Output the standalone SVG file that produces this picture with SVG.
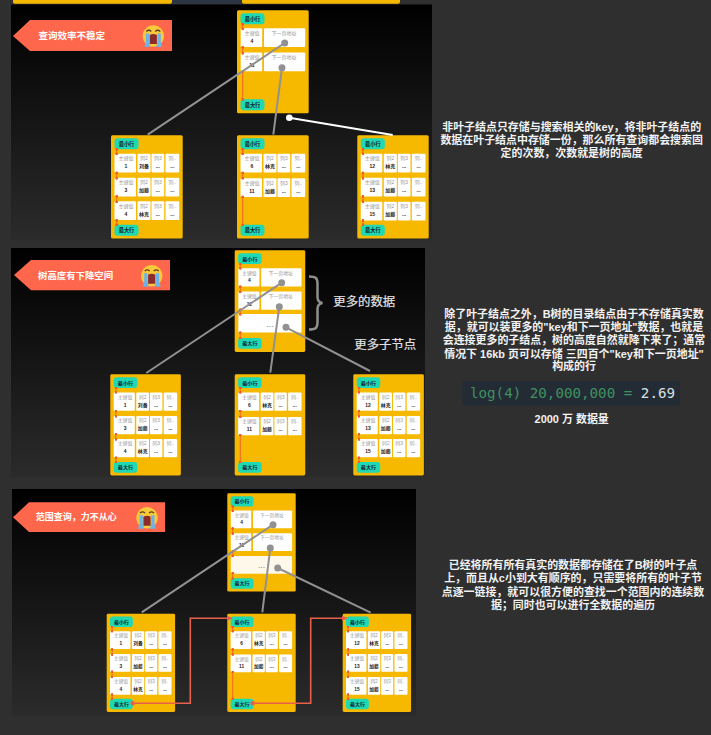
<svg xmlns="http://www.w3.org/2000/svg" width="711" height="735" viewBox="0 0 711 735">
<style>
text{font-family:"Liberation Sans","Noto Sans CJK SC",sans-serif}
.n{fill:#f6b900}
.c{fill:#fff}
.b{fill:#1fd8b4}
.bt{font-size:5.2px;font-weight:700;fill:#123;text-anchor:middle}
.l{font-size:5px;fill:#999;text-anchor:middle}
.v{font-size:5px;font-weight:700;fill:#222;text-anchor:middle}
.r{fill:none;stroke:#f0592e;stroke-width:.9;marker-start:url(#d);marker-mid:url(#d);marker-end:url(#d)}
.e{font-size:9px;fill:#888;text-anchor:middle}
.g{fill:none;stroke:#919191;stroke-width:2}
.gd{fill:#919191}
.o{fill:none;stroke:#e9604a;stroke-width:1.6;marker-end:url(#ah)}
.od{fill:#e9604a}
.ban{fill:#ff674d}
.bant{fill:#fff;font-weight:700;dominant-baseline:central}
.ann{fill:#e2e2e2;stroke:#e2e2e2;stroke-width:.2;font-size:12.4px;dominant-baseline:central}
.d{fill:#f2f2f2;font-size:10.95px;font-weight:700;text-anchor:middle;dominant-baseline:central}
</style>
<defs>
<linearGradient id="pg" x1="0" y1="0" x2="0" y2="1"><stop offset="0" stop-color="#000"/><stop offset="1" stop-color="#2b2b2b"/></linearGradient>
<marker id="d" viewBox="-2 -2 4 4" markerWidth="2.8" markerHeight="2.8" markerUnits="userSpaceOnUse"><circle r="2" fill="#f0592e"/></marker>
<marker id="ah" viewBox="0 0 8 8" refX="7" refY="4" markerWidth="5.5" markerHeight="5.5" markerUnits="userSpaceOnUse" orient="auto"><path d="M0 0L8 4L0 8Z" fill="#e9604a"/></marker>
<g id="cells"><rect class="c" x="3.500" width="21.500" height="18.700" rx="1"/><rect class="c" x="26.500" width="13" height="18.700" rx="1"/><rect class="c" x="40.500" width="12.700" height="18.700" rx="1"/><rect class="c" x="54.500" width="13.700" height="18.700" rx="1"/></g>
<g id="rcells"><rect class="c" x="3.700" width="21.500" height="18.700" rx="1"/><rect class="c" x="27" width="41.200" height="18.700" rx="1"/></g>
<g id="cry">
<circle r="10.700" fill="#f9c93c"/>
<path d="M-7 -4.500Q-4.500 -7 -2 -4.500M2 -4.500Q4.500 -7 7 -4.500" fill="none" stroke="#5b3a1e" stroke-width="1.200"/>
<path d="M-3.600 -1Q0 -3 3.600 -1L3.600 8L-3.600 8Z" fill="#8b2c2c"/>
<path d="M-7.500 -2.500H-4.200V6L-3 11H-9L-7.500 6ZM4.200 -2.500H7.500V6L9 11H3L4.200 6Z" fill="#6db3e6"/>
</g>
</defs>
<rect width="711" height="735" fill="#2f2f2f"/>
<g id="top-strip">
<rect x="172" y="0" width="70" height="4" fill="#2b3642"/>
<path d="M13 0H172V2A1.700 1.700 0 0 1 170.300 3.700H14.700A1.700 1.700 0 0 1 13 2Z" fill="#f6b900"/>
<path d="M242 0H400V2A1.700 1.700 0 0 1 398.300 3.700H243.700A1.700 1.700 0 0 1 242 2Z" fill="#f6b900"/>
</g>
<rect id="panel-1" x="11" y="4.500" width="421" height="236" fill="url(#pg)"/>
<rect id="panel-2" x="11" y="248" width="414" height="229" fill="url(#pg)"/>
<rect id="panel-3" x="12" y="489" width="404" height="227" fill="url(#pg)"/>

<g id="banner-1"><path class="ban" d="M13 36L30 20H172V51H30Z"/><text class="bant" x="38.500" y="35.500" font-size="9.500">查询效率不稳定</text><use href="#cry" transform="translate(153.300 36)"/></g>
<g id="banner-2"><path class="ban" d="M14 275L31 260H170V290.300H31Z"/><text class="bant" x="38" y="275" font-size="9.400">树高度有下降空间</text><use href="#cry" transform="translate(151.700 275.700)"/></g>
<g id="banner-3"><path class="ban" d="M13 517.300L29 502.300H165V532H29Z"/><text class="bant" x="35.700" y="517.300" font-size="9">范围查询，力不从心</text><use href="#cry" transform="translate(147 517.700)"/></g>

<g id="p1-root" transform="translate(237 10.300)"><rect class="n" width="71.700" height="103" rx="1.500"/>
<rect class="b" x="3.500" y="3" width="24" height="11" rx="3"/><text class="bt" x="15.500" y="10.500">最小行</text>
<g transform="translate(0 18)"><use href="#rcells"/><text class="l" x="15" y="6.500">主键值</text><text class="v" x="15" y="14.500">4</text><text class="l" x="47" y="6.500">下一页地址</text></g>
<g transform="translate(0 42.300)"><use href="#rcells"/><text class="l" x="15" y="6.500">主键值</text><text class="v" x="15" y="14.500">11</text><text class="l" x="47" y="6.500">下一页地址</text></g>
<rect class="b" x="3.500" y="89" width="24" height="11" rx="3"/><text class="bt" x="15.500" y="96.500">最大行</text>
<path class="r" d="M5.700 14V18.500M5.700 37V43M5.700 61V89"/></g>

<g id="p1-leaf-1" transform="translate(111 135.300)"><rect class="n" width="71.700" height="103.300" rx="1.500"/>
<rect class="b" x="3.500" y="3" width="24" height="11" rx="3"/><text class="bt" x="15.500" y="10.500">最小行</text>
<g transform="translate(0 18.500)"><use href="#cells"/><text class="l" x="15" y="6.500">主键值</text><text class="v" x="15" y="14.500">1</text><text class="l" x="33" y="6.500">列2</text><text class="v" x="33" y="14.500">刘备</text><text class="l" x="46.800" y="6.500">列3</text><text class="v" x="46.800" y="14.500">...</text><text class="l" x="61.300" y="6.500">列..</text><text class="v" x="61.300" y="14.500">...</text></g>
<g transform="translate(0 42.500)"><use href="#cells"/><text class="l" x="15" y="6.500">主键值</text><text class="v" x="15" y="14.500">3</text><text class="l" x="33" y="6.500">列2</text><text class="v" x="33" y="14.500">加藤</text><text class="l" x="46.800" y="6.500">列3</text><text class="v" x="46.800" y="14.500">...</text><text class="l" x="61.300" y="6.500">列..</text><text class="v" x="61.300" y="14.500">...</text></g>
<g transform="translate(0 66)"><use href="#cells"/><text class="l" x="15" y="6.500">主键值</text><text class="v" x="15" y="14.500">4</text><text class="l" x="33" y="6.500">列2</text><text class="v" x="33" y="14.500">林克</text><text class="l" x="46.800" y="6.500">列3</text><text class="v" x="46.800" y="14.500">...</text><text class="l" x="61.300" y="6.500">列..</text><text class="v" x="61.300" y="14.500">...</text></g>
<rect class="b" x="3.500" y="89.500" width="24" height="11" rx="3"/><text class="bt" x="15.500" y="97">最大行</text>
<path class="r" d="M5.700 14V18.500M5.700 37.500V43M5.700 61V66.500M5.700 85V89.500"/></g>

<g id="p1-leaf-2" transform="translate(237 135.300)"><rect class="n" width="71.700" height="103.300" rx="1.500"/>
<rect class="b" x="3.500" y="3" width="24" height="11" rx="3"/><text class="bt" x="15.500" y="10.500">最小行</text>
<g transform="translate(0 18.500)"><use href="#cells"/><text class="l" x="15" y="6.500">主键值</text><text class="v" x="15" y="14.500">6</text><text class="l" x="33" y="6.500">列2</text><text class="v" x="33" y="14.500">林克</text><text class="l" x="46.800" y="6.500">列3</text><text class="v" x="46.800" y="14.500">...</text><text class="l" x="61.300" y="6.500">列..</text><text class="v" x="61.300" y="14.500">...</text></g>
<g transform="translate(0 43)"><use href="#cells"/><text class="l" x="15" y="6.500">主键值</text><text class="v" x="15" y="14.500">11</text><text class="l" x="33" y="6.500">列2</text><text class="v" x="33" y="14.500">加藤</text><text class="l" x="46.800" y="6.500">列3</text><text class="v" x="46.800" y="14.500">...</text><text class="l" x="61.300" y="6.500">列..</text><text class="v" x="61.300" y="14.500">...</text></g>
<rect class="b" x="3.500" y="89.500" width="24" height="11" rx="3"/><text class="bt" x="15.500" y="97">最大行</text>
<path class="r" d="M5.700 14V18.500M5.700 37.500V43M5.700 61.500V89.500"/></g>

<g id="p1-leaf-3" transform="translate(357.300 135.300)"><rect class="n" width="71.400" height="103.300" rx="1.500"/>
<rect class="b" x="3.500" y="3" width="24" height="11" rx="3"/><text class="bt" x="15.500" y="10.500">最小行</text>
<g transform="translate(0 18.500)"><use href="#cells"/><text class="l" x="15" y="6.500">主键值</text><text class="v" x="15" y="14.500">12</text><text class="l" x="33" y="6.500">列2</text><text class="v" x="33" y="14.500">林克</text><text class="l" x="46.800" y="6.500">列3</text><text class="v" x="46.800" y="14.500">...</text><text class="l" x="61.300" y="6.500">列..</text><text class="v" x="61.300" y="14.500">...</text></g>
<g transform="translate(0 42.500)"><use href="#cells"/><text class="l" x="15" y="6.500">主键值</text><text class="v" x="15" y="14.500">13</text><text class="l" x="33" y="6.500">列2</text><text class="v" x="33" y="14.500">加藤</text><text class="l" x="46.800" y="6.500">列3</text><text class="v" x="46.800" y="14.500">...</text><text class="l" x="61.300" y="6.500">列..</text><text class="v" x="61.300" y="14.500">...</text></g>
<g transform="translate(0 66.500)"><use href="#cells"/><text class="l" x="15" y="6.500">主键值</text><text class="v" x="15" y="14.500">15</text><text class="l" x="33" y="6.500">列2</text><text class="v" x="33" y="14.500">加藤</text><text class="l" x="46.800" y="6.500">列3</text><text class="v" x="46.800" y="14.500">...</text><text class="l" x="61.300" y="6.500">列..</text><text class="v" x="61.300" y="14.500">...</text></g>
<rect class="b" x="3.500" y="89.500" width="24" height="11" rx="3"/><text class="bt" x="15.500" y="97">最大行</text>
<path class="r" d="M5.700 14V18.500M5.700 37.500V43M5.700 61V66.500M5.700 85V89.500"/></g>

<g id="p2-root" transform="translate(234.700 250.300) scale(.98)"><rect class="n" width="72" height="103.800" rx="1.500"/>
<rect class="b" x="3.500" y="3" width="24" height="11" rx="3"/><text class="bt" x="15.500" y="10.500">最小行</text>
<g transform="translate(0 18.300)"><use href="#rcells"/><text class="l" x="15" y="6.500">主键值</text><text class="v" x="15" y="14.500">4</text><text class="l" x="47" y="6.500">下一页地址</text></g>
<g transform="translate(0 42)"><use href="#rcells"/><text class="l" x="15" y="6.500">主键值</text><text class="v" x="15" y="14.500">11</text><text class="l" x="47" y="6.500">下一页地址</text></g>
<rect class="c" x="3.700" y="65" width="64.500" height="19" rx="1"/><text class="e" x="36" y="78">...</text>
<rect class="b" x="3.500" y="89.500" width="24" height="11" rx="3"/><text class="bt" x="15.500" y="97">最大行</text>
<path class="r" d="M5.700 14V18.500M5.700 37V42.500M5.700 60.500V65.500M5.700 84V89.500"/></g>

<g id="p2-leaf-1" transform="translate(110.300 374.300) scale(.98)"><rect class="n" width="72" height="103.300" rx="1.500"/>
<rect class="b" x="3.500" y="3" width="24" height="11" rx="3"/><text class="bt" x="15.500" y="10.500">最小行</text>
<g transform="translate(0 18.500)"><use href="#cells"/><text class="l" x="15" y="6.500">主键值</text><text class="v" x="15" y="14.500">1</text><text class="l" x="33" y="6.500">列2</text><text class="v" x="33" y="14.500">刘备</text><text class="l" x="46.800" y="6.500">列3</text><text class="v" x="46.800" y="14.500">...</text><text class="l" x="61.300" y="6.500">列..</text><text class="v" x="61.300" y="14.500">...</text></g>
<g transform="translate(0 42.500)"><use href="#cells"/><text class="l" x="15" y="6.500">主键值</text><text class="v" x="15" y="14.500">3</text><text class="l" x="33" y="6.500">列2</text><text class="v" x="33" y="14.500">加藤</text><text class="l" x="46.800" y="6.500">列3</text><text class="v" x="46.800" y="14.500">...</text><text class="l" x="61.300" y="6.500">列..</text><text class="v" x="61.300" y="14.500">...</text></g>
<g transform="translate(0 66)"><use href="#cells"/><text class="l" x="15" y="6.500">主键值</text><text class="v" x="15" y="14.500">4</text><text class="l" x="33" y="6.500">列2</text><text class="v" x="33" y="14.500">林克</text><text class="l" x="46.800" y="6.500">列3</text><text class="v" x="46.800" y="14.500">...</text><text class="l" x="61.300" y="6.500">列..</text><text class="v" x="61.300" y="14.500">...</text></g>
<rect class="b" x="3.500" y="89.500" width="24" height="11" rx="3"/><text class="bt" x="15.500" y="97">最大行</text>
<path class="r" d="M5.700 14V18.500M5.700 37.500V43M5.700 61V66.500M5.700 85V89.500"/></g>

<g id="p2-leaf-2" transform="translate(234.700 374.300) scale(.98)"><rect class="n" width="72" height="103.300" rx="1.500"/>
<rect class="b" x="3.500" y="3" width="24" height="11" rx="3"/><text class="bt" x="15.500" y="10.500">最小行</text>
<g transform="translate(0 18.500)"><use href="#cells"/><text class="l" x="15" y="6.500">主键值</text><text class="v" x="15" y="14.500">6</text><text class="l" x="33" y="6.500">列2</text><text class="v" x="33" y="14.500">林克</text><text class="l" x="46.800" y="6.500">列3</text><text class="v" x="46.800" y="14.500">...</text><text class="l" x="61.300" y="6.500">列..</text><text class="v" x="61.300" y="14.500">...</text></g>
<g transform="translate(0 43.500)"><use href="#cells"/><text class="l" x="15" y="6.500">主键值</text><text class="v" x="15" y="14.500">11</text><text class="l" x="33" y="6.500">列2</text><text class="v" x="33" y="14.500">加藤</text><text class="l" x="46.800" y="6.500">列3</text><text class="v" x="46.800" y="14.500">...</text><text class="l" x="61.300" y="6.500">列..</text><text class="v" x="61.300" y="14.500">...</text></g>
<rect class="b" x="3.500" y="89.500" width="24" height="11" rx="3"/><text class="bt" x="15.500" y="97">最大行</text>
<path class="r" d="M5.700 14V18.500M5.700 37.500V43.500M5.700 62V89.500"/></g>

<g id="p2-leaf-3" transform="translate(353.300 374.300) scale(.98)"><rect class="n" width="72" height="103.300" rx="1.500"/>
<rect class="b" x="3.500" y="3" width="24" height="11" rx="3"/><text class="bt" x="15.500" y="10.500">最小行</text>
<g transform="translate(0 18.500)"><use href="#cells"/><text class="l" x="15" y="6.500">主键值</text><text class="v" x="15" y="14.500">12</text><text class="l" x="33" y="6.500">列2</text><text class="v" x="33" y="14.500">林克</text><text class="l" x="46.800" y="6.500">列3</text><text class="v" x="46.800" y="14.500">...</text><text class="l" x="61.300" y="6.500">列..</text><text class="v" x="61.300" y="14.500">...</text></g>
<g transform="translate(0 42.500)"><use href="#cells"/><text class="l" x="15" y="6.500">主键值</text><text class="v" x="15" y="14.500">13</text><text class="l" x="33" y="6.500">列2</text><text class="v" x="33" y="14.500">加藤</text><text class="l" x="46.800" y="6.500">列3</text><text class="v" x="46.800" y="14.500">...</text><text class="l" x="61.300" y="6.500">列..</text><text class="v" x="61.300" y="14.500">...</text></g>
<g transform="translate(0 66)"><use href="#cells"/><text class="l" x="15" y="6.500">主键值</text><text class="v" x="15" y="14.500">15</text><text class="l" x="33" y="6.500">列2</text><text class="v" x="33" y="14.500">加藤</text><text class="l" x="46.800" y="6.500">列3</text><text class="v" x="46.800" y="14.500">...</text><text class="l" x="61.300" y="6.500">列..</text><text class="v" x="61.300" y="14.500">...</text></g>
<rect class="b" x="3.500" y="89.500" width="24" height="11" rx="3"/><text class="bt" x="15.500" y="97">最大行</text>
<path class="r" d="M5.700 14V18.500M5.700 37.500V43M5.700 61V66.500M5.700 85V89.500"/></g>

<g id="p3-root" transform="translate(227.300 493.300) scale(.95)"><rect class="n" width="72" height="103.500" rx="1.500"/>
<rect class="b" x="3.500" y="3" width="24" height="11" rx="3"/><text class="bt" x="15.500" y="10.500">最小行</text>
<g transform="translate(0 18)"><use href="#rcells"/><text class="l" x="15" y="6.500">主键值</text><text class="v" x="15" y="14.500">4</text><text class="l" x="47" y="6.500">下一页地址</text></g>
<g transform="translate(0 42)"><use href="#rcells"/><text class="l" x="15" y="6.500">主键值</text><text class="v" x="15" y="14.500">11</text><text class="l" x="47" y="6.500">下一页地址</text></g>
<rect x="3.700" y="66" width="64.500" height="18.700" rx="1" fill="#fdf8ea"/><text class="e" x="36" y="78.500">...</text>
<rect class="b" x="3.500" y="89.500" width="24" height="11" rx="3"/><text class="bt" x="15.500" y="97">最大行</text>
<path class="r" d="M5.700 14V18.500M5.700 37V42.500M5.700 61V66M5.700 84V89.500"/></g>

<g id="p3-leaf-1" transform="translate(106.700 613.700) scale(.95)"><rect class="n" width="72" height="103.500" rx="1.500"/>
<rect class="b" x="3.500" y="3" width="24" height="11" rx="3"/><text class="bt" x="15.500" y="10.500">最小行</text>
<g transform="translate(0 18.500)"><use href="#cells"/><text class="l" x="15" y="6.500">主键值</text><text class="v" x="15" y="14.500">1</text><text class="l" x="33" y="6.500">列2</text><text class="v" x="33" y="14.500">刘备</text><text class="l" x="46.800" y="6.500">列3</text><text class="v" x="46.800" y="14.500">...</text><text class="l" x="61.300" y="6.500">列..</text><text class="v" x="61.300" y="14.500">...</text></g>
<g transform="translate(0 42.500)"><use href="#cells"/><text class="l" x="15" y="6.500">主键值</text><text class="v" x="15" y="14.500">3</text><text class="l" x="33" y="6.500">列2</text><text class="v" x="33" y="14.500">加藤</text><text class="l" x="46.800" y="6.500">列3</text><text class="v" x="46.800" y="14.500">...</text><text class="l" x="61.300" y="6.500">列..</text><text class="v" x="61.300" y="14.500">...</text></g>
<g transform="translate(0 66.500)"><use href="#cells"/><text class="l" x="15" y="6.500">主键值</text><text class="v" x="15" y="14.500">4</text><text class="l" x="33" y="6.500">列2</text><text class="v" x="33" y="14.500">林克</text><text class="l" x="46.800" y="6.500">列3</text><text class="v" x="46.800" y="14.500">...</text><text class="l" x="61.300" y="6.500">列..</text><text class="v" x="61.300" y="14.500">...</text></g>
<rect class="b" x="3.500" y="89.500" width="24" height="11" rx="3"/><text class="bt" x="15.500" y="97">最大行</text>
<path class="r" d="M5.700 14V18.500M5.700 37.500V43M5.700 61V66.500M5.700 85V89.500"/></g>

<g id="p3-leaf-2" transform="translate(227.300 613.700) scale(.95)"><rect class="n" width="72" height="103.500" rx="1.500"/>
<rect class="b" x="3.500" y="3" width="24" height="11" rx="3"/><text class="bt" x="15.500" y="10.500">最小行</text>
<g transform="translate(0 18.500)"><use href="#cells"/><text class="l" x="15" y="6.500">主键值</text><text class="v" x="15" y="14.500">6</text><text class="l" x="33" y="6.500">列2</text><text class="v" x="33" y="14.500">林克</text><text class="l" x="46.800" y="6.500">列3</text><text class="v" x="46.800" y="14.500">...</text><text class="l" x="61.300" y="6.500">列..</text><text class="v" x="61.300" y="14.500">...</text></g>
<g transform="translate(0 43)"><use href="#cells"/><text class="l" x="15" y="6.500">主键值</text><text class="v" x="15" y="14.500">11</text><text class="l" x="33" y="6.500">列2</text><text class="v" x="33" y="14.500">加藤</text><text class="l" x="46.800" y="6.500">列3</text><text class="v" x="46.800" y="14.500">...</text><text class="l" x="61.300" y="6.500">列..</text><text class="v" x="61.300" y="14.500">...</text></g>
<rect class="b" x="3.500" y="89.500" width="24" height="11" rx="3"/><text class="bt" x="15.500" y="97">最大行</text>
<path class="r" d="M5.700 14V18.500M5.700 37.500V43M5.700 61.500V89.500"/></g>

<g id="p3-leaf-3" transform="translate(342.700 613.700) scale(.95)"><rect class="n" width="72" height="103.500" rx="1.500"/>
<rect class="b" x="3.500" y="3" width="24" height="11" rx="3"/><text class="bt" x="15.500" y="10.500">最小行</text>
<g transform="translate(0 18.500)"><use href="#cells"/><text class="l" x="15" y="6.500">主键值</text><text class="v" x="15" y="14.500">12</text><text class="l" x="33" y="6.500">列2</text><text class="v" x="33" y="14.500">林克</text><text class="l" x="46.800" y="6.500">列3</text><text class="v" x="46.800" y="14.500">...</text><text class="l" x="61.300" y="6.500">列..</text><text class="v" x="61.300" y="14.500">...</text></g>
<g transform="translate(0 42.500)"><use href="#cells"/><text class="l" x="15" y="6.500">主键值</text><text class="v" x="15" y="14.500">13</text><text class="l" x="33" y="6.500">列2</text><text class="v" x="33" y="14.500">加藤</text><text class="l" x="46.800" y="6.500">列3</text><text class="v" x="46.800" y="14.500">...</text><text class="l" x="61.300" y="6.500">列..</text><text class="v" x="61.300" y="14.500">...</text></g>
<g transform="translate(0 66.500)"><use href="#cells"/><text class="l" x="15" y="6.500">主键值</text><text class="v" x="15" y="14.500">15</text><text class="l" x="33" y="6.500">列2</text><text class="v" x="33" y="14.500">加藤</text><text class="l" x="46.800" y="6.500">列3</text><text class="v" x="46.800" y="14.500">...</text><text class="l" x="61.300" y="6.500">列..</text><text class="v" x="61.300" y="14.500">...</text></g>
<rect class="b" x="3.500" y="89.500" width="24" height="11" rx="3"/><text class="bt" x="15.500" y="97">最大行</text>
<path class="r" d="M5.700 14V18.500M5.700 37.500V43M5.700 61V66.500M5.700 85V89.500"/></g>

<g id="connectors">
<path class="g" d="M284.700 43L147.700 134.700M282 67.700L273.300 134.700"/>
<circle class="gd" cx="284.700" cy="43" r="3.500"/><circle class="gd" cx="282" cy="67.700" r="3.500"/>
<path d="M289.300 117.700L392.700 135" fill="none" stroke="#fff" stroke-width="2"/><circle cx="289.300" cy="117.700" r="3.300" fill="#fff"/>
<path class="g" d="M281.700 282.700L146.300 373M279.300 306.700L270.300 372.700M286 327.300L370 371"/>
<circle class="gd" cx="281.700" cy="282.700" r="3.500"/><circle class="gd" cx="279.300" cy="306.700" r="3.500"/><circle class="gd" cx="286" cy="327.300" r="3.500"/>
<path class="g" d="M273 524.700L141.700 612.300M270.300 548L262.300 612.300M277.700 568L370.700 612.700"/>
<circle class="gd" cx="273" cy="524.700" r="3.500"/><circle class="gd" cx="270.300" cy="548" r="3.500"/><circle class="gd" cx="277.700" cy="568" r="3.500"/>
<path class="o" d="M132.700 703.300H190.300V618.300H231.700"/><circle class="od" cx="132.700" cy="703.300" r="2.300"/>
<path class="o" d="M252.700 703.300H310.700V618.300H346.700"/><circle class="od" cx="252.700" cy="703.300" r="2.300"/>
</g>

<g id="annotations">
<path d="M309 276.500C316 276.500 317.500 278 317.500 284V297C317.500 300.500 319 302.500 322.500 303C319 303.500 317.500 305.500 317.500 309V322C317.500 328 316 329.500 309 329.500" fill="none" stroke="#8e8e8e" stroke-width="2.500"/>
<text class="ann" x="333.300" y="301.700">更多的数据</text>
<text class="ann" x="354.300" y="345">更多子节点</text>
</g>

<g id="desc-1">
<text class="d" x="571.700" y="127.300">非叶子结点只存储与搜索相关的key，将非叶子结点的</text>
<text class="d" x="571.700" y="140">数据在叶子结点中存储一份，那么所有查询都会搜索固</text>
<text class="d" x="571.700" y="153.300">定的次数，次数就是树的高度</text>
</g>
<g id="desc-2">
<text class="d" x="574" y="314">除了叶子结点之外，B树的目录结点由于不存储真实数</text>
<text class="d" x="574" y="327">据，就可以装更多的"key和下一页地址"数据，也就是</text>
<text class="d" x="574" y="340">会连接更多的子结点，树的高度自然就降下来了；通常</text>
<text class="d" x="574" y="353.500">情况下 16kb 页可以存储 三四百个"key和下一页地址"</text>
<text class="d" x="574" y="366">构成的行</text>
</g>
<g id="code">
<rect x="462.300" y="381" width="217.700" height="24.300" fill="#232c35"/>
<text x="470" y="398.300" font-size="14.200" style="font-family:'DejaVu Sans Mono',monospace" fill="#3f9160" xml:space="preserve">log(4) 20,000,000 = <tspan fill="#d9e0e4">2.69</tspan></text>
</g>
<text id="caption" class="d" x="571.700" y="419">2000 万 数据量</text>
<g id="desc-3">
<text class="d" x="573" y="565">已经将所有所有真实的数据都存储在了B树的叶子点</text>
<text class="d" x="573" y="578">上，而且从c小到大有顺序的，只需要将所有的叶子节</text>
<text class="d" x="573" y="591.500">点逐一链接，就可以很方便的查找一个范围内的连续数</text>
<text class="d" x="573" y="604.700">据；同时也可以进行全数据的遍历</text>
</g>
</svg>
